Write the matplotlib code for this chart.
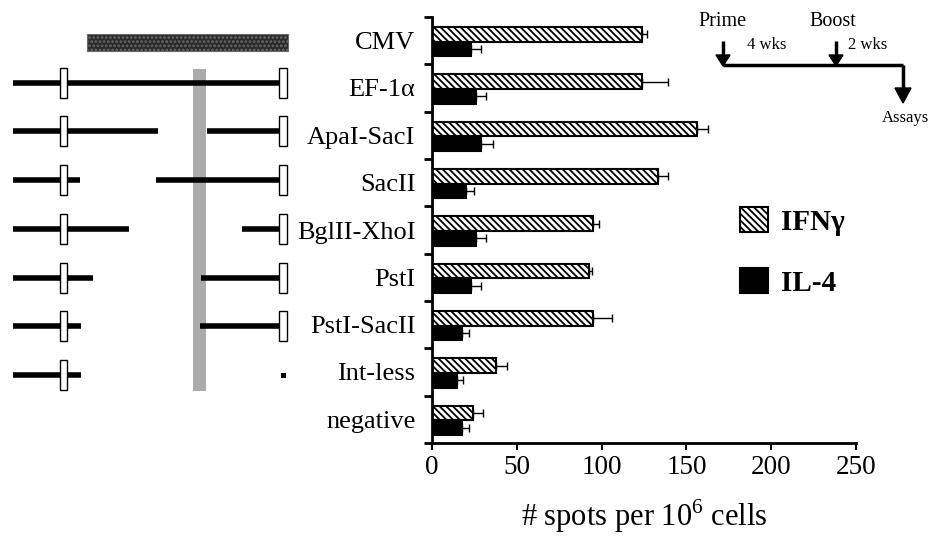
import numpy as np
import matplotlib
matplotlib.use("Agg")
import matplotlib.pyplot as plt
from matplotlib.patches import Rectangle

plt.rcParams['font.family'] = ['Liberation Serif', 'DejaVu Serif']
plt.rcParams['mathtext.fontset'] = 'custom'
plt.rcParams['mathtext.rm'] = 'Liberation Serif'
plt.rcParams['hatch.linewidth'] = 1.3

# ---------------- data ----------------
constructs = ["CMV", "EF-1\u03b1", "ApaI-SacI", "SacII", "BglII-XhoI",
              "PstI", "PstI-SacII", "Int-less", "negative"]
ifng = [124, 124, 156, 133, 95, 92.5, 95, 38, 24]
ifng_err = [3, 15, 7, 6, 3.5, 2, 11, 6, 6]
il4 = [23, 26, 29, 20, 26, 23, 17.5, 14.5, 17.5]
il4_err = [6, 6, 7, 5, 6, 6, 4.5, 4, 4.5]
xticks = [0, 50, 100, 150, 200, 250]

# construct map (pixel space of the left panel): one row per construct EF-1a .. Int-less
row_y = [83, 131, 180, 229, 278, 326, 375]
left_segs = [(13, 280), (13, 158), (13, 80), (13, 129), (13, 93), (13, 81), (13, 81)]
right_segs = [None, (207, 280), (156, 280), (242, 280), (201, 280), (200, 280), None]
right_box = [True, True, True, True, True, True, False]

fig = plt.figure(figsize=(9.33, 5.39), dpi=100)

# ---------------- bar chart ----------------
ax = fig.add_axes([432 / 933, 1 - 443 / 539, 424 / 933, 426 / 539])
n = len(constructs)
pos = np.arange(n)
h = 0.31
b1 = ax.barh(pos + 0.365, ifng, height=h, color='white', edgecolor='black',
             hatch='\\\\\\\\\\', linewidth=1.5, label='IFN\u03b3')
b2 = ax.barh(pos + 0.675, il4, height=h, color='black', edgecolor='black',
             linewidth=1.5, label='IL-4')
ax.errorbar(ifng, pos + 0.365, xerr=[np.zeros(n), ifng_err], fmt='none',
            ecolor='black', elinewidth=1, capsize=3, capthick=1)
ax.errorbar(il4, pos + 0.675, xerr=[np.zeros(n), il4_err], fmt='none',
            ecolor='black', elinewidth=1, capsize=3, capthick=1)

ax.set_xlim(0, 250)
ax.set_ylim(n, 0)
ax.set_xticks(xticks)
ax.set_xticklabels([str(t) for t in xticks], fontsize=19.5)
ax.set_yticks(np.arange(n + 1))
ax.set_yticklabels([])
ax.set_yticks(pos + 0.5, minor=True)
ax.set_yticklabels(constructs, minor=True, fontsize=19)
ax.tick_params(axis='y', which='major', length=6, width=2, direction='out')
ax.tick_params(axis='y', which='minor', length=0, pad=12)
ax.tick_params(axis='x', length=5, width=1.5, direction='out', pad=4)
for s in ['top', 'right']:
    ax.spines[s].set_visible(False)
for s in ['left', 'bottom']:
    ax.spines[s].set_linewidth(2)
ax.set_xlabel("# spots per 10$^\\mathrm{6}$ cells", fontsize=22, labelpad=12)

leg = fig.legend(handles=[b1, b2], loc='upper left', bbox_to_anchor=(714 / 933, 1 - 181 / 539),
                 frameon=False, prop={'family': 'Liberation Serif', 'weight': 'bold', 'size': 21},
                 handlelength=0.95, handleheight=0.95, labelspacing=1.1, handletextpad=0.45)

# ---------------- overlay: construct map and timeline ----------------
ov = fig.add_axes([0, 0, 1, 1])
ov.set_xlim(0, 933)
ov.set_ylim(539, 0)
ov.axis('off')
ov.patch.set_alpha(0)

# dark bar over the CMV row
ov.add_patch(Rectangle((87, 34), 201, 17, facecolor='#2a2a2a', edgecolor='#6a6a6a',
                       hatch='....', linewidth=0.8, zorder=2))
# gray shaded column
ov.add_patch(Rectangle((193, 69), 13, 322, facecolor='#ababab', edgecolor='none', zorder=1))

for i, y in enumerate(row_y):
    ov.plot(left_segs[i], [y, y], color='black', linewidth=4, solid_capstyle='butt', zorder=2)
    if right_segs[i] is not None:
        ov.plot(right_segs[i], [y, y], color='black', linewidth=4, solid_capstyle='butt', zorder=2)
    ov.add_patch(Rectangle((60, y - 15), 7, 30, facecolor='white', edgecolor='black',
                           linewidth=1, zorder=3))
    if right_box[i]:
        ov.add_patch(Rectangle((279, y - 15), 8, 30, facecolor='white', edgecolor='black',
                               linewidth=1, zorder=3))
    else:
        ov.add_patch(Rectangle((281, y - 2), 5, 5, facecolor='black', edgecolor='none', zorder=3))

# timeline
ov.text(698, 21, "Prime", fontsize=14.5, va='center', ha='left')
ov.text(809, 21, "Boost", fontsize=14.5, va='center', ha='left')
ov.text(747, 45, "4 wks", fontsize=12, va='center', ha='left')
ov.text(848, 45, "2 wks", fontsize=12, va='center', ha='left')
ov.text(882, 118, "Assays", fontsize=12, va='center', ha='left')
ov.plot([723, 903], [65, 65], color='black', linewidth=2.5, solid_capstyle='butt')
ov.plot([903, 903], [65, 90], color='black', linewidth=2.5, solid_capstyle='butt')
for xa in [723, 836]:
    ov.plot([xa, xa], [41, 56], color='black', linewidth=2.5, solid_capstyle='butt')
    ov.add_patch(plt.Polygon([[xa - 7, 55], [xa + 7, 55], [xa, 66]], color='black'))
ov.add_patch(plt.Polygon([[895, 88], [911, 88], [903, 103]], color='black'))

fig.savefig("out.png", dpi=100)
